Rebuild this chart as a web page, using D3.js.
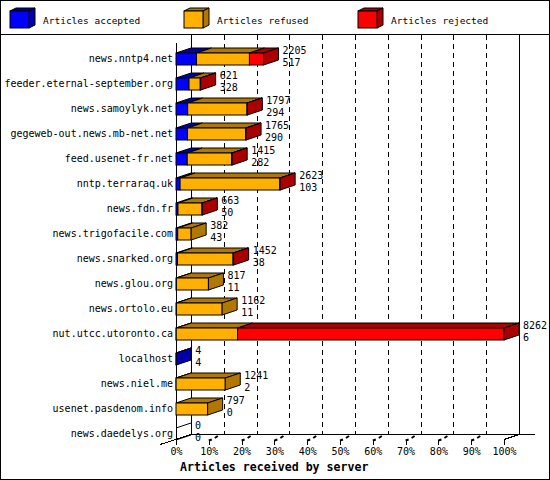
<!DOCTYPE html>
<html><head><meta charset="utf-8">
<script src="https://cdn.jsdelivr.net/npm/d3@7"></script>
<style>
html,body{margin:0;padding:0;background:#fff;}
svg{display:block;}
text{font-family:"DejaVu Sans Mono",monospace;fill:#000;}
</style></head>
<body>
<svg id="chart" width="550" height="480"></svg>
<script>
const categories = ["news.nntp4.net","feeder.eternal-september.org","news.samoylyk.net","gegeweb-out.news.mb-net.net","feed.usenet-fr.net","nntp.terraraq.uk","news.fdn.fr","news.trigofacile.com","news.snarked.org","news.glou.org","news.ortolo.eu","nut.utcc.utoronto.ca","localhost","news.niel.me","usenet.pasdenom.info","news.daedelys.org"];
const received = [2205,621,1797,1765,1415,2623,663,382,1452,817,1162,8262,4,1241,797,0];
const accepted = [517,328,294,290,282,103,50,43,38,11,11,6,4,2,0,0];
const refused  = [1333,283,1495,1466,1121,2514,605,339,1399,806,1151,1545,0,1239,797,0];
const rejected = [355,10,8,9,12,6,8,0,15,0,0,6711,0,0,0,0];
const seriesNames = ["Articles accepted","Articles refused","Articles rejected"];
const tickLabels = ["0%","10%","20%","30%","40%","50%","60%","70%","80%","90%","100%"];
const tickValues = [0,10,20,30,40,50,60,70,80,90,100];
const xTitle = "Articles received by server";

const front = ["#0000ff","#ffb000","#ff0000"];
const dark  = ["#0000aa","#b07800","#aa0000"];
const DX = 15, DY = -5, BH = 12;

const svg = d3.select("#chart");
svg.append("rect").attr("x",0.5).attr("y",0.5).attr("width",549).attr("height",479)
  .attr("fill","#fff").attr("stroke","#000").attr("shape-rendering","crispEdges");
svg.append("line").attr("x1",0).attr("x2",550).attr("y1",34.5).attr("y2",34.5)
  .attr("stroke","#000").attr("shape-rendering","crispEdges");

const y = d3.scaleBand().domain(categories).range([46.5,446.5]);
const x = d3.scaleLinear().domain([0,d3.max(received)]).range([176,504]);
const pct = d3.scaleLinear().domain([0,100]).range([176,504]);

const x0 = x(0), topF = 43, botF = 439.5;
const g = svg.append("g");

// back grid dashed lines
g.selectAll("line.grid").data(tickValues.filter(v=>v>0&&v<100)).join("line")
  .attr("x1",d=>Math.round(pct(d)+DX)+0.5).attr("x2",d=>Math.round(pct(d)+DX)+0.5)
  .attr("y1",35).attr("y2",botF+DY)
  .attr("stroke","#000").attr("stroke-dasharray","5,4").attr("shape-rendering","crispEdges");
// back frame
const lines = [
  [x0+DX+0.5,35,x0+DX+0.5,botF+DY],
  [pct(100)+DX+0.5,35,pct(100)+DX+0.5,botF+DY],
  [x0+DX,botF+DY,535,botF+DY],
  [x0-DX-1,botF-DY,x0+DX,botF+DY],
  [pct(100),botF,pct(100)+DX,botF+DY],
  [x0+0.5,topF,x0+0.5,botF+1]
];
g.selectAll("line.frame").data(lines).join("line")
  .attr("x1",d=>d[0]).attr("y1",d=>d[1]).attr("x2",d=>d[2]).attr("y2",d=>d[3])
  .attr("stroke","#000").attr("shape-rendering","crispEdges");

// x axis (front)
const xAxis = d3.axisBottom(pct).tickValues(tickValues).tickFormat((d,i)=>tickLabels[i]).tickSize(5).tickPadding(3);
const ax = svg.append("g").attr("transform",`translate(0,${botF})`).call(xAxis);
ax.select(".domain").remove();
ax.selectAll(".tick line").attr("stroke","#000").attr("shape-rendering","crispEdges");
ax.selectAll(".tick text").attr("font-size","10px").attr("font-family","DejaVu Sans Mono");
// floor tick marks
g.selectAll("path.fl").data(tickValues.filter(v=>v>0&&v<100)).join("path")
  .attr("d",d=>{const fx=pct(d);return `M${fx},${botF+1}L${fx+3},${botF}M${fx+6},${botF-1.5}L${fx+9},${botF-3.5}`;})
  .attr("stroke","#000").attr("stroke-width",2).attr("fill","none");

// bars
function box(sel, xa, xb, cy, fc, dc){
  const t = cy - BH/2, b = cy + BH/2;
  sel.append("polygon").attr("points",[[xa,t],[xb,t],[xb+DX,t+DY],[xa+DX,t+DY]].join(" "))
    .attr("fill",dc).attr("stroke","#000").attr("stroke-linejoin","round");
  sel.append("rect").attr("x",xa).attr("y",t).attr("width",Math.max(0,xb-xa)).attr("height",BH)
    .attr("fill",fc).attr("stroke","#000");
  return sel;
}
function side(sel, xb, cy, dc){
  const t = cy - BH/2, b = cy + BH/2;
  sel.append("polygon").attr("points",[[xb,t],[xb+DX,t+DY],[xb+DX,b+DY],[xb,b]].join(" "))
    .attr("fill",dc).attr("stroke","#000");
}
const bars = svg.append("g");
categories.forEach((c,i)=>{
  const cy = y(c)+y.bandwidth()/2;
  const vals = [accepted[i],refused[i],rejected[i]];
  const gg = bars.append("g");
  let acc = 0, last = -1;
  vals.forEach((v,k)=>{
    if(v<=0) return;
    box(gg, x(acc), x(acc+v), cy, front[k], dark[k]);
    acc += v; last = k;
  });
  if(last>=0) side(gg, x(acc), cy, dark[last]);
  else {
    const t = cy-BH/2, b = cy+BH/2;
    gg.append("path").attr("d",`M${x0},${t}L${x0+DX},${t+DY}M${x0},${b}L${x0+DX},${b+DY}`)
      .attr("stroke","#000").attr("fill","none");
  }
  const tx = x(received[i]) + DX + 4;
  gg.append("text").attr("x",tx).attr("y",cy-9).attr("dominant-baseline","central")
    .attr("font-size","10px").text(received[i]);
  gg.append("text").attr("x",tx).attr("y",cy+3).attr("dominant-baseline","central")
    .attr("font-size","10px").text(accepted[i]);
});

// y axis labels
const yAxis = d3.axisLeft(y).tickSize(0).tickPadding(3);
const ay = svg.append("g").attr("transform",`translate(${x0},0)`).call(yAxis);
ay.select(".domain").remove();
ay.selectAll(".tick text").attr("font-size","10px").attr("font-family","DejaVu Sans Mono");

// x title
svg.append("text").attr("x",180).attr("y",466.5).attr("dominant-baseline","central")
  .attr("font-size","11.6px").attr("font-weight","bold").text(xTitle);

// legend
const lx = [10,184,358];
seriesNames.forEach((n,k)=>{
  const lg = svg.append("g").attr("transform",`translate(${lx[k]},0)`);
  lg.append("polygon").attr("points","0,11 19,11 25,8 6,8").attr("fill",dark[k]).attr("stroke","#000");
  lg.append("polygon").attr("points","19,11 25,8 25,25 19,28").attr("fill",dark[k]).attr("stroke","#000");
  lg.append("rect").attr("x",0).attr("y",11).attr("width",19).attr("height",17).attr("fill",front[k]).attr("stroke","#000");
  lg.append("text").attr("x",33).attr("y",20).attr("dominant-baseline","central")
    .attr("font-size","9.5px").text(n);
});
</script>
</body></html>
